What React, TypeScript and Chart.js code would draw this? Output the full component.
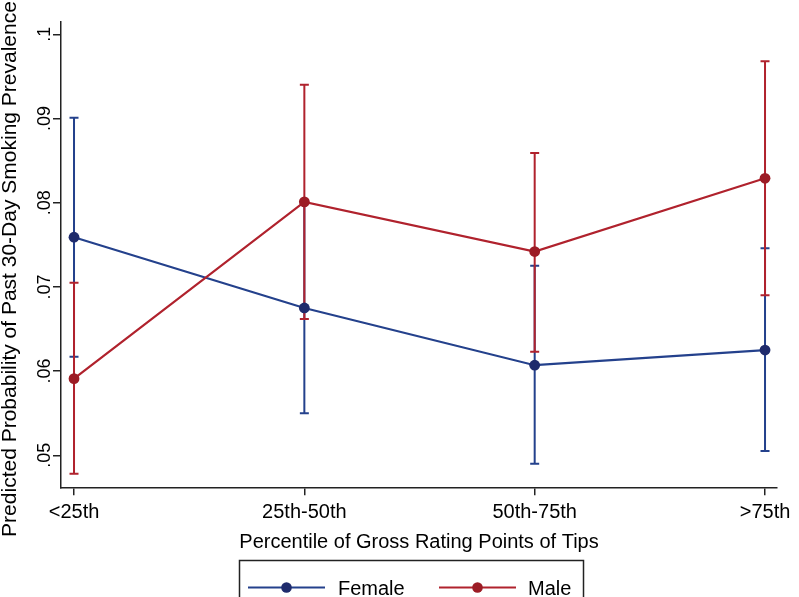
import React, { useEffect, useRef } from "react";
import { Chart, registerables } from "chart.js";

Chart.register(...registerables);

const categories = ["<25th", "25th-50th", "50th-75th", ">75th"];
const seriesNames = ["Female", "Male"];
const femaleEst = [0.0759, 0.0675, 0.0607, 0.0625];
const femaleLo = [0.0617, 0.055, 0.049, 0.0505];
const femaleHi = [0.0901, 0.08, 0.0725, 0.0746];
const maleEst = [0.0591, 0.0801, 0.0742, 0.0829];
const maleLo = [0.0478, 0.0662, 0.0623, 0.069];
const maleHi = [0.0705, 0.094, 0.0859, 0.0968];
const yTickValues = [0.05, 0.06, 0.07, 0.08, 0.09, 0.1];
const yTickLabels = [".05", ".06", ".07", ".08", ".09", ".1"];
const yTitle = "Predicted Probability of Past 30-Day Smoking Prevalence";
const xTitle = "Percentile of Gross Rating Points of Tips";

const FONT = "'Liberation Sans', Arial, Helvetica, sans-serif";
const FEMALE_LINE = "#24418c";
const FEMALE_MARK = "#1f2b6c";
const MALE_LINE = "#b0222d";
const MALE_MARK = "#9c1c25";
const AXIS = "#222";
const W = 799;
const H = 597;

const errorBarPlugin = {
  id: "errorBars",
  beforeDatasetsDraw(chart: any) {
    const { ctx } = chart;
    const x = chart.scales.x;
    const y = chart.scales.y;
    const sets = [
      { lo: femaleLo, hi: femaleHi, color: FEMALE_LINE },
      { lo: maleLo, hi: maleHi, color: MALE_LINE },
    ];
    ctx.save();
    sets.forEach((s) => {
      ctx.strokeStyle = s.color;
      ctx.lineWidth = 2;
      categories.forEach((_, i) => {
        const px = x.getPixelForValue(i);
        const pl = y.getPixelForValue(s.lo[i]);
        const ph = y.getPixelForValue(s.hi[i]);
        ctx.beginPath();
        ctx.moveTo(px, pl);
        ctx.lineTo(px, ph);
        ctx.moveTo(px - 4.5, pl);
        ctx.lineTo(px + 4.5, pl);
        ctx.moveTo(px - 4.5, ph);
        ctx.lineTo(px + 4.5, ph);
        ctx.stroke();
      });
    });
    ctx.restore();
  },
};

const textPlugin = {
  id: "stataText",
  afterDraw(chart: any) {
    const { ctx } = chart;
    const y = chart.scales.y;
    ctx.save();
    ctx.fillStyle = "#000";
    // y tick labels, rotated
    ctx.font = `18px ${FONT}`;
    ctx.textAlign = "center";
    ctx.textBaseline = "alphabetic";
    yTickValues.forEach((v, i) => {
      const py = y.getPixelForValue(v);
      ctx.save();
      ctx.translate(50, py);
      ctx.rotate(-Math.PI / 2);
      ctx.fillText(yTickLabels[i], 0, 0);
      ctx.restore();
    });
    // y title
    ctx.font = `21px ${FONT}`;
    ctx.save();
    ctx.translate(16, 269);
    ctx.rotate(-Math.PI / 2);
    ctx.fillText(yTitle, 0, 0);
    ctx.restore();

    // legend
    ctx.font = `20px ${FONT}`;
    ctx.strokeStyle = AXIS;
    ctx.lineWidth = 1.5;
    ctx.strokeRect(239.5, 560.5, 344, 40);
    const items = [
      { name: seriesNames[0], line: FEMALE_LINE, mark: FEMALE_MARK, x0: 248, x1: 325, tx: 338 },
      { name: seriesNames[1], line: MALE_LINE, mark: MALE_MARK, x0: 439, x1: 516, tx: 528 },
    ];
    ctx.textAlign = "left";
    items.forEach((it) => {
      ctx.strokeStyle = it.line;
      ctx.lineWidth = 2;
      ctx.beginPath();
      ctx.moveTo(it.x0, 587.5);
      ctx.lineTo(it.x1, 587.5);
      ctx.stroke();
      ctx.fillStyle = it.mark;
      ctx.beginPath();
      ctx.arc((it.x0 + it.x1) / 2, 587.5, 5.3, 0, Math.PI * 2);
      ctx.fill();
      ctx.fillStyle = "#000";
      ctx.fillText(it.name, it.tx, 595);
    });
    ctx.restore();
  },
};

export default function App() {
  const ref = useRef<HTMLCanvasElement | null>(null);
  useEffect(() => {
    if (!ref.current) return;
    const chart = new Chart(ref.current, {
      type: "line",
      data: {
        datasets: [
          {
            label: seriesNames[0],
            data: femaleEst.map((v, i) => ({ x: i, y: v })),
            borderColor: FEMALE_LINE,
            backgroundColor: FEMALE_MARK,
            pointBackgroundColor: FEMALE_MARK,
            pointBorderColor: FEMALE_MARK,
            pointRadius: 5.4,
            pointBorderWidth: 0,
            borderWidth: 2.2,
            tension: 0,
            order: 1,
          },
          {
            label: seriesNames[1],
            data: maleEst.map((v, i) => ({ x: i, y: v })),
            borderColor: MALE_LINE,
            backgroundColor: MALE_MARK,
            pointBackgroundColor: MALE_MARK,
            pointBorderColor: MALE_MARK,
            pointRadius: 5.4,
            pointBorderWidth: 0,
            borderWidth: 2.2,
            tension: 0,
            order: 0,
          },
        ],
      },
      options: {
        animation: false,
        responsive: false,
        maintainAspectRatio: false,
        layout: { padding: { left: 0, right: 22, top: 22, bottom: 0 } },
        plugins: {
          legend: { display: false },
          tooltip: { enabled: false },
        },
        scales: {
          x: {
            type: "linear",
            min: -0.0565,
            max: 3.052,
            afterBuildTicks: (s: any) => {
              s.ticks = categories.map((_, i) => ({ value: i }));
            },
            afterFit: (s: any) => {
              s.height = H - 487.3;
            },
            ticks: {
              callback: (v: any) => categories[v as number],
              font: { size: 20, family: FONT },
              color: "#000",
              padding: 5,
              maxRotation: 0,
              autoSkip: false,
            },
            grid: {
              drawOnChartArea: false,
              drawTicks: true,
              tickLength: 8,
              color: AXIS,
              lineWidth: 1.5,
            },
            border: { display: true, color: AXIS, width: 1.5 },
            title: {
              display: true,
              text: xTitle,
              font: { size: 20, family: FONT },
              color: "#000",
              padding: { top: 0, bottom: 43 },
            },
          },
          y: {
            type: "linear",
            min: 0.0462,
            max: 0.10146,
            afterBuildTicks: (s: any) => {
              s.ticks = yTickValues.map((v) => ({ value: v }));
            },
            afterFit: (s: any) => {
              s.width = 61;
            },
            ticks: { display: false },
            grid: {
              drawOnChartArea: false,
              drawTicks: true,
              tickLength: 8,
              color: AXIS,
              lineWidth: 1.5,
            },
            border: { display: true, color: AXIS, width: 1.5 },
          },
        },
      },
      plugins: [errorBarPlugin, textPlugin],
    });
    return () => chart.destroy();
  }, []);
  return (
    <div style={{ position: "fixed", left: 0, top: 0, width: W, height: H, background: "#fff" }}>
      <canvas ref={ref} width={W} height={H} style={{ width: W, height: H, display: "block" }} />
    </div>
  );
}
